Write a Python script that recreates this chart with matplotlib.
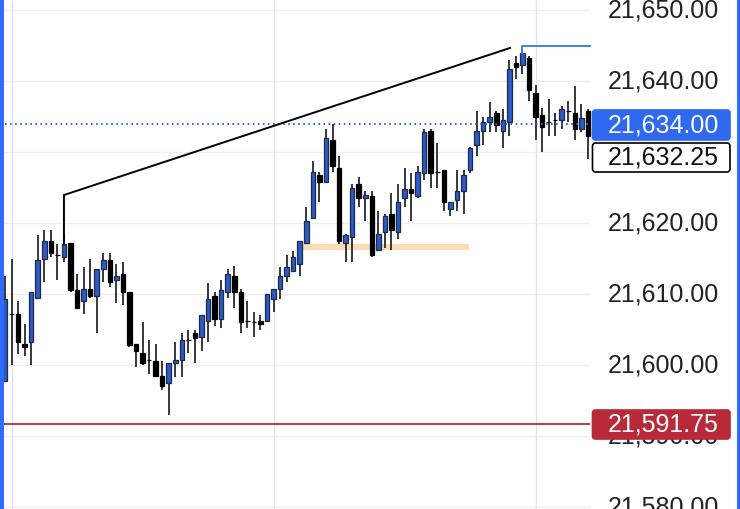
#!/usr/bin/env python3
"""Recreate the 5-minute style candlestick screenshot with its price tags."""

import matplotlib

matplotlib.use("Agg")
import matplotlib.pyplot as plt
import numpy as np
from matplotlib.patches import FancyBboxPatch, Rectangle

plt.rcParams["font.family"] = ["Liberation Sans", "DejaVu Sans"]

opens = [21597.75, 21607.25, 21607.25, 21603.0, 21603.25, 21609.5, 21615.0, 21617.5, 21615.5, 21615.25,
         21617.25, 21610.5, 21609.0, 21610.75, 21609.75, 21613.5, 21614.75, 21612.0, 21612.75, 21610.25,
         21603.0, 21601.75, 21600.75, 21600.5, 21598.5, 21597.5, 21600.25, 21600.75, 21603.5, 21604.5,
         21604.0, 21606.25, 21609.75, 21606.5, 21610.25, 21612.5, 21610.25, 21606.25, 21606.0, 21606.25,
         21606.25, 21609.25, 21610.75, 21612.5, 21613.25, 21614.25, 21617.25, 21620.75, 21626.75, 21625.75,
         21631.75, 21627.75, 21617.25, 21618.0, 21625.5, 21623.5, 21623.75, 21616.25, 21618.75, 21621.25,
         21618.75, 21623.5, 21624.75, 21623.75, 21627.0, 21633.0, 21627.25, 21627.5, 21622.0, 21623.25,
         21624.5, 21627.5, 21631.0, 21633.0, 21634.25, 21635.5, 21633.0, 21634.25, 21642.5, 21642.25,
         21643.25, 21638.25, 21635.25, 21634.25, 21634.5, 21634.5, 21635.75, 21635.5, 21633.25, 21635.75]
highs = [21612.5, 21615.0, 21609.0, 21605.75, 21610.25, 21618.25, 21619.0, 21619.0, 21617.0, 21618.5,
         21617.25, 21612.75, 21613.75, 21615.0, 21613.5, 21615.75, 21615.75, 21614.25, 21614.5, 21610.25,
         21603.0, 21606.0, 21603.5, 21603.0, 21600.5, 21600.25, 21603.25, 21604.5, 21605.0, 21605.0,
         21607.0, 21611.5, 21610.25, 21612.0, 21613.5, 21614.0, 21610.75, 21609.0, 21607.5, 21607.0,
         21610.0, 21610.75, 21613.75, 21615.5, 21616.0, 21617.5, 21622.25, 21628.75, 21627.25, 21633.25,
         21634.0, 21629.5, 21618.5, 21625.5, 21626.5, 21624.5, 21624.5, 21621.75, 21621.25, 21624.25,
         21625.5, 21627.75, 21627.0, 21628.0, 21633.25, 21633.25, 21631.25, 21627.5, 21623.0, 21627.5,
         21627.5, 21630.75, 21635.75, 21635.0, 21637.0, 21635.75, 21636.0, 21643.0, 21643.5, 21645.0,
         21643.5, 21639.5, 21636.25, 21637.5, 21635.5, 21636.5, 21637.25, 21639.25, 21636.75, 21636.0]
lows = [21597.75, 21600.0, 21601.5, 21601.25, 21600.0, 21609.5, 21611.75, 21615.25, 21612.0, 21614.5,
        21610.25, 21608.0, 21607.25, 21609.5, 21604.5, 21611.75, 21611.0, 21608.75, 21608.5, 21602.5,
        21599.75, 21600.0, 21598.75, 21598.25, 21596.5, 21593.0, 21598.25, 21598.25, 21601.75, 21600.25,
        21602.0, 21603.25, 21605.5, 21605.25, 21609.5, 21608.0, 21604.5, 21605.25, 21604.0, 21605.0,
        21606.0, 21607.5, 21609.25, 21611.75, 21613.25, 21612.5, 21617.0, 21620.75, 21623.0, 21625.75,
        21627.25, 21617.0, 21614.5, 21614.5, 21622.25, 21620.25, 21615.25, 21616.25, 21616.5, 21616.25,
        21617.75, 21622.25, 21620.25, 21623.5, 21626.0, 21625.0, 21625.0, 21621.75, 21621.0, 21621.75,
        21621.25, 21627.0, 21629.5, 21631.0, 21632.75, 21632.75, 21630.5, 21632.25, 21640.25, 21641.0,
        21637.25, 21631.75, 21630.0, 21632.25, 21632.25, 21633.25, 21634.25, 21631.75, 21632.75, 21629.0]
closes = [21609.25, 21607.25, 21603.25, 21602.5, 21610.25, 21614.75, 21617.5, 21615.75, 21615.5, 21617.0,
          21610.5, 21608.0, 21610.75, 21609.75, 21613.5, 21614.75, 21611.75, 21612.5, 21610.25, 21602.75,
          21602.0, 21600.25, 21600.75, 21598.5, 21597.0, 21600.25, 21600.75, 21603.5, 21603.5, 21603.75,
          21607.0, 21609.25, 21606.5, 21610.5, 21612.75, 21610.25, 21606.0, 21606.25, 21606.0, 21605.75,
          21610.0, 21610.75, 21612.5, 21613.75, 21615.25, 21617.5, 21620.25, 21627.25, 21625.75, 21632.0,
          21628.0, 21617.5, 21618.25, 21625.0, 21623.5, 21624.0, 21615.5, 21618.5, 21621.0, 21619.0,
          21623.0, 21624.75, 21624.25, 21627.25, 21632.75, 21627.0, 21627.25, 21623.0, 21623.0, 21624.5,
          21626.75, 21630.5, 21633.0, 21634.25, 21635.0, 21633.75, 21634.5, 21641.75, 21642.0, 21644.0,
          21638.75, 21635.0, 21633.5, 21634.25, 21634.5, 21636.0, 21635.75, 21633.25, 21634.75, 21632.25]

tick_prices = [21650, 21640, 21620, 21610, 21600, 21590, 21580]
bar_grid = [1, 41, 81]

last_price = 21632.25
bid_price = 21634.00
stop_price = 21591.75
support_band = (21616.2, 21617.0)
support_bars = (45.0, 70.9)
trend_start = (9, 21623.94)
trend_end = (77.1, 21644.65)
high_mark = 21645.0

BLUE = "#2b5bc8"
EDGE = "#1f2a44"
TAG_BLUE = "#2f69f0"
TAG_RED = "#b82a3a"
PX_PER_BAR = 6.55
PX_PER_POINT = 7.1

W, H = 740, 509
x_min = -5 / PX_PER_BAR
x_max = (W - 5) / PX_PER_BAR
y_max = 21640 + 81 / PX_PER_POINT
y_min = y_max - H / PX_PER_POINT
x_end = (590 - 5) / PX_PER_BAR


def price_y(price):
    """Pixel row (from the top) of a price."""
    return (y_max - price) * PX_PER_POINT


def draw_tag(ui, top, bottom, label, face, edge, color, size=18):
    box = FancyBboxPatch((592.5, top + 1), 137.5, bottom - top - 2,
                         boxstyle="round,pad=0,rounding_size=3",
                         facecolor=face, edgecolor=edge, linewidth=1.2, zorder=5)
    ui.add_patch(box)
    ui.text(607.5, (top + bottom) / 2 + 0.3, label, color=color, fontsize=size,
            ha="left", va="center", zorder=6)


fig = plt.figure(figsize=(W / 100, H / 100), dpi=100, facecolor="white")
ax = fig.add_axes([0, 0, 1, 1])
ax.set_xlim(x_min, x_max)
ax.set_ylim(y_min, y_max)
ax.axis("off")

# grid first, everything else sits on top
ax.hlines(tick_prices + [21630], x_min, x_end, color="#eeeeee", linewidth=1.0, zorder=1)
ax.vlines(bar_grid, y_min, y_max, color="#e4e4e4", linewidth=1.0, zorder=1)
ax.add_patch(Rectangle((support_bars[0], support_band[0]), support_bars[1] - support_bars[0],
                       support_band[1] - support_band[0],
                       facecolor="#fbdcb3", edgecolor="none", zorder=1.5))

opens = np.array(opens)
closes = np.array(closes)
bars = np.arange(len(opens))
up = closes > opens
colors = [BLUE if u else "black" for u in up]
edges = [EDGE if u else "black" for u in up]

ax.vlines(bars, lows, highs, color="#15171c", linewidth=1.2, zorder=2)
ax.bar(bars, closes - opens, bottom=opens, width=0.7, color=colors,
       edgecolor=edges, linewidth=0.9, zorder=3)

ax.hlines(bid_price, x_min, x_end, color="#2360e0", linewidth=1.4,
          linestyle=(0, (0.8, 1.8)), zorder=4)
ax.hlines(stop_price, x_min, x_end, color=TAG_RED, linewidth=1.3, zorder=4)

ax.plot([trend_start[0], trend_start[0], trend_end[0]],
        [21617.0, trend_start[1], trend_end[1]], color="black", linewidth=1.4,
        solid_joinstyle="miter", zorder=4)
ax.plot([79, 79, x_end], [21644.0, high_mark, high_mark], color="#3b82e8",
        linewidth=1.4, zorder=4)

# price scale, tags and the screen edge are laid out in pixels
ui = fig.add_axes([0, 0, 1, 1], facecolor="none")
ui.set_xlim(0, W)
ui.set_ylim(H, 0)
ui.axis("off")

for price in tick_prices:
    ui.text(607.5, price_y(price) + 0.5, f"{price:,.2f}", color="#222222",
            fontsize=18, ha="left", va="center", zorder=2)

draw_tag(ui, 109, 141, f"{bid_price:,.2f}", TAG_BLUE, TAG_BLUE, "white")
draw_tag(ui, 142, 173, f"{last_price:,.2f}", "white", "black", "#111111")
draw_tag(ui, 409, 440, f"{stop_price:,.2f}", TAG_RED, TAG_RED, "white")

ui.add_patch(Rectangle((0, 0), 3.5, H, facecolor="#2f6bff", edgecolor="none", zorder=7))
ui.add_patch(Rectangle((736.5, 0), 3.5, H, facecolor="#2f6bff", edgecolor="none", zorder=7))

fig.savefig("out.png", dpi=100)
plt.close(fig)
